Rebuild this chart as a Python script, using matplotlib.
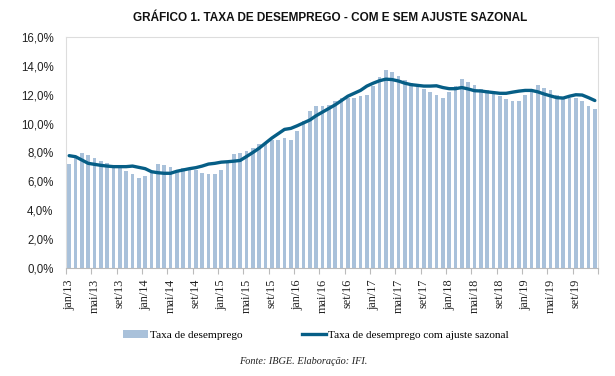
import matplotlib
matplotlib.use("Agg")
import matplotlib.pyplot as plt
from matplotlib.patches import Patch
from matplotlib.lines import Line2D
import numpy as np

months = ["jan", "fev", "mar", "abr", "mai", "jun", "jul", "ago", "set", "out", "nov", "dez"]
years = ["13", "14", "15", "16", "17", "18", "19"]
categories = [f"{m}/{y}" for y in years for m in months]

taxa = [
    7.2, 7.7, 8.0, 7.8, 7.6, 7.4, 7.3, 7.1, 6.9, 6.7, 6.5, 6.2,
    6.4, 6.7, 7.2, 7.1, 7.0, 6.8, 6.9, 6.8, 6.8, 6.6, 6.5, 6.5,
    6.8, 7.4, 7.9, 8.0, 8.1, 8.3, 8.6, 8.7, 8.9, 8.9, 9.0, 8.9,
    9.5, 10.2, 10.9, 11.2, 11.2, 11.3, 11.6, 11.8, 11.8, 11.8, 11.9, 12.0,
    12.6, 13.2, 13.7, 13.6, 13.3, 13.0, 12.8, 12.6, 12.4, 12.2, 12.0, 11.8,
    12.2, 12.6, 13.1, 12.9, 12.7, 12.4, 12.3, 12.1, 11.9, 11.7, 11.6, 11.6,
    12.0, 12.4, 12.7, 12.5, 12.3, 12.0, 11.8, 11.8, 11.8, 11.6, 11.2, 11.0,
]

taxa_sa = [
    7.78, 7.71, 7.48, 7.25, 7.18, 7.11, 7.06, 7.02, 7.02, 7.02, 7.06, 6.97,
    6.88, 6.67, 6.60, 6.56, 6.56, 6.70, 6.79, 6.88, 6.95, 7.06, 7.20, 7.25,
    7.33, 7.36, 7.40, 7.45, 7.72, 8.00, 8.30, 8.65, 9.00, 9.30, 9.60, 9.67,
    9.85, 10.05, 10.25, 10.55, 10.80, 11.05, 11.30, 11.60, 11.90, 12.10, 12.30, 12.60,
    12.80, 12.97, 13.08, 13.05, 12.95, 12.80, 12.70, 12.65, 12.60, 12.60, 12.62, 12.50,
    12.42, 12.42, 12.50, 12.40, 12.28, 12.26, 12.20, 12.15, 12.10, 12.10, 12.18, 12.25,
    12.30, 12.30, 12.20, 12.05, 11.92, 11.80, 11.77, 11.90, 12.00, 11.98, 11.80, 11.60,
]

ytick_vals = [0, 2, 4, 6, 8, 10, 12, 14, 16]
ytick_labels = [f"{v:.1f}%".replace(".", ",") for v in ytick_vals]

title = "GRÁFICO 1. TAXA DE DESEMPREGO - COM E SEM AJUSTE SAZONAL"
label_bar = "Taxa de desemprego"
label_line = "Taxa de desemprego com ajuste sazonal"
source = "Fonte: IBGE. Elaboração: IFI."

bar_color = "#A9C1DA"
line_color = "#065E86"
sans = ["Liberation Sans", "DejaVu Sans"]
serif = ["Liberation Serif", "DejaVu Serif"]

fig = plt.figure(figsize=(6.15, 3.76), dpi=100)
ax = fig.add_axes([66 / 615, 1 - 268 / 376, (598 - 66) / 615, (268 - 37) / 376])

x = np.arange(len(categories))
ax.bar(x, taxa, width=0.62, color=bar_color, zorder=2)
ax.plot(x, taxa_sa, color=line_color, linewidth=2.4, zorder=3, solid_capstyle="round")

ax.set_xlim(-0.5, len(categories) - 0.5)
ax.set_ylim(0, 16)
ax.set_yticks(ytick_vals)
ax.set_yticklabels(ytick_labels, fontfamily=sans, fontsize=8.3, color="#222222")
ax.tick_params(axis="y", length=0, pad=9)

# ticks at category boundaries every 4 months, labels on first month of group
major = np.arange(0, len(categories) + 1, 4) - 0.5
ax.set_xticks(major)
ax.set_xticklabels([""] * len(major))
ax.tick_params(axis="x", which="major", length=4, color="#BBBBBB", width=0.8)
lab_pos = np.arange(0, len(categories), 4)
ax.set_xticks(lab_pos, minor=True)
ax.set_xticklabels([categories[i] for i in lab_pos], minor=True, rotation=90,
                   fontfamily=serif, fontsize=8.8, color="#222222")
ax.tick_params(axis="x", which="minor", length=0, pad=8)

for side in ["top", "left", "right"]:
    ax.spines[side].set_color("#DDDDDD")
    ax.spines[side].set_linewidth(0.8)
ax.spines["bottom"].set_color("#BBBBBB")
ax.spines["bottom"].set_linewidth(0.8)

fig.text(330 / 615, 1 - 18 / 376, title, ha="center", va="center",
         fontfamily=sans, fontweight="bold", fontsize=8.5, color="#111111")

handles = [Patch(facecolor=bar_color, edgecolor="none"),
           Line2D([0], [0], color=line_color, linewidth=2.4)]
fig.legend(handles, [label_bar, label_line], loc="center", ncol=2,
           bbox_to_anchor=(316 / 615, 1 - 335 / 376), frameon=False,
           prop={"family": serif, "size": 8.1}, handlelength=2.2, handletextpad=0.15,
           columnspacing=5.3)

fig.text(303 / 615, 1 - 361 / 376, source, ha="center", va="center",
         fontfamily=serif, fontstyle="italic", fontsize=7.4, color="#222222")

fig.savefig("out.png", dpi=100)
